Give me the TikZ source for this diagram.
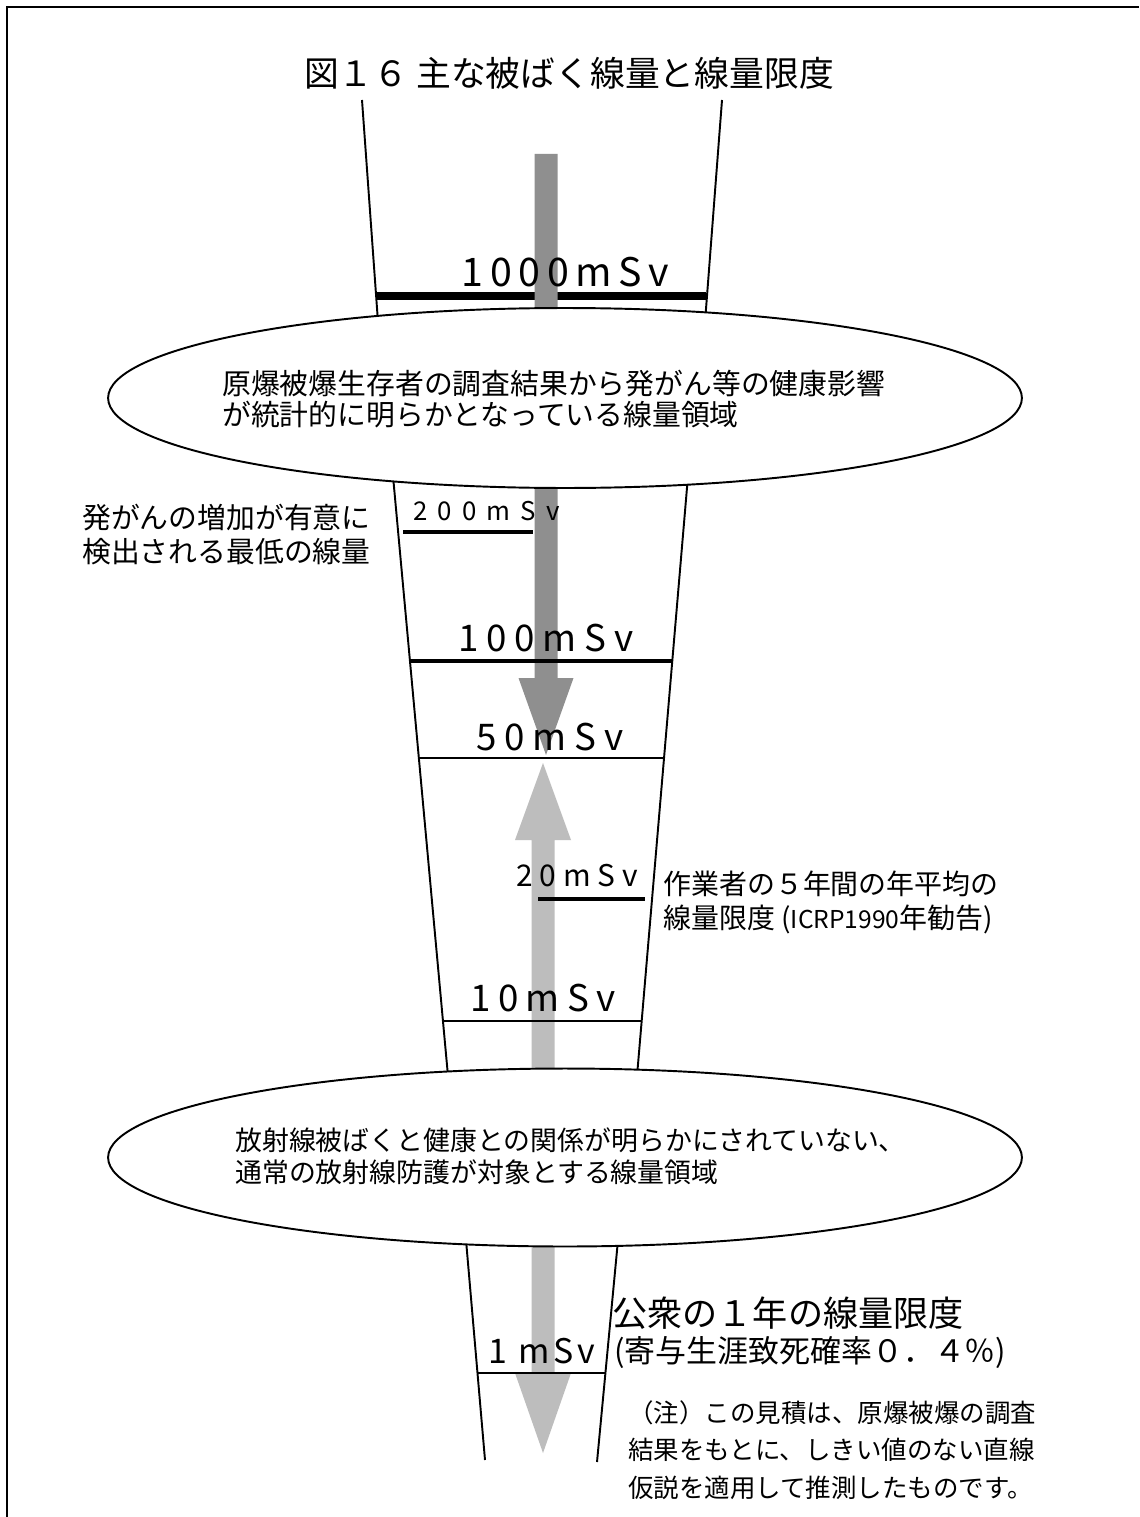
\documentclass[tikz,border=0pt]{standalone}
\usepackage{fontspec}
\setmainfont{Noto Sans CJK JP}
\usetikzlibrary{shapes.geometric}
\newcommand\fsz[2]{\fontsize{#1pt}{#2pt}\selectfont}
\newcommand\msv[2]{\fontsize{#1pt}{#1pt}\selectfont\addfontfeatures{LetterSpace=#2}}
\definecolor{darkarr}{gray}{0.56}
\definecolor{lightarr}{gray}{0.74}
\begin{document}
\begin{tikzpicture}[x=0.02cm,y=-0.02cm,
  side/.style={line width=1.1pt},
  framel/.style={line width=1.4pt},
  thinbar/.style={line width=1.1pt},
  midbar/.style={line width=2.2pt},
  zone/.style={ellipse, draw, fill=white, line width=1.1pt, inner sep=0, minimum width=18.28cm},
  txt/.style={inner sep=0, anchor=west, align=left},
  lbl/.style={inner sep=0}]
\useasboundingbox (0,0) rectangle (1139,1517);
\fill[white] (0,0) rectangle (1139,1517);
% frame
\coordinate (fbl) at (7,1517); \coordinate (ftl) at (7,7); \coordinate (ftr) at (1139,7);
\draw[framel] (fbl) -- (ftl) -- (ftr);
% funnel sides
\coordinate (tl1) at (362,100); \coordinate (tl2) at (378,322);
\coordinate (tr1) at (722,100); \coordinate (tr2) at (705,322);
\coordinate (ml1) at (393,476); \coordinate (ml2) at (448,1076);
\coordinate (mr1) at (688,476); \coordinate (mr2) at (637,1076);
\coordinate (bl1) at (466,1240); \coordinate (bl2) at (485,1460);
\coordinate (br1) at (618,1240); \coordinate (br2) at (597,1462);
\draw[side] (tl1) -- (tl2); \draw[side] (tr1) -- (tr2);
\draw[side] (ml1) -- (ml2); \draw[side] (mr1) -- (mr2);
\draw[side] (bl1) -- (bl2); \draw[side] (br1) -- (br2);
% 1000 mSv bar (under the arrow)
\coordinate (b1000a) at (377,296); \coordinate (b1000b) at (706,296);
\draw[line width=4.5pt] (b1000a) -- (b1000b);
% arrows
\fill[darkarr] (534.5,154) -- (557.5,154) -- (557.5,678) -- (573.5,678) -- (546,755) -- (518.5,678) -- (534.5,678) -- cycle;
\fill[lightarr] (543,763) -- (571,840) -- (554.5,840) -- (554.5,1373) -- (571,1373) -- (543,1453) -- (515,1373) -- (531.5,1373) -- (531.5,840) -- (515,840) -- cycle;
% bars
\coordinate (b200a) at (403,532); \coordinate (b200b) at (533,532);
\coordinate (b100a) at (410,661); \coordinate (b100b) at (673,661);
\coordinate (b50a) at (420,758); \coordinate (b50b) at (664,758);
\coordinate (b20a) at (538,899); \coordinate (b20b) at (645,899);
\coordinate (b10a) at (443,1021); \coordinate (b10b) at (641,1021);
\coordinate (b1a) at (477,1373); \coordinate (b1b) at (606,1373);
\draw[line width=2.8pt] (b200a) -- (b200b);
\draw[midbar] (b100a) -- (b100b);
\draw[thinbar] (b50a) -- (b50b);
\draw[midbar] (b20a) -- (b20b);
\draw[thinbar] (b10a) -- (b10b);
\draw[thinbar] (b1a) -- (b1b);
% zones
\node[zone, minimum height=3.6cm] (e1) at (565,398) {};
\node[zone, minimum height=3.56cm] (e2) at (565,1157.5) {};
% texts
\node[lbl, font=\fsz{19.8}{22}] (title) at (569,73) {図１６ 主な被ばく線量と線量限度};
\node[txt, font=\fsz{16.4}{18.1}] (e1t) at (222,399) {原爆被爆生存者の調査結果から発がん等の健康影響\\が統計的に明らかとなっている線量領域};
\node[txt, font=\fsz{15.3}{18.1}] (e2t) at (235,1156) {放射線被ばくと健康との関係が明らかにされていない、\\通常の放射線防護が対象とする線量領域};
\node[txt, font=\fsz{16.4}{19.8}] (left) at (82,534.5) {発がんの増加が有意に\\検出される最低の線量};
\node[txt, font=\fsz{15.9}{19.8}] (work) at (663,902.5) {作業者の５年間の年平均の\\線量限度 ({\fontsize{14pt}{14pt}\selectfont ICRP1990}年勧告)};
\node[txt, font=\fsz{20}{22}] (pub1) at (612,1313) {公衆の１年の線量限度};
\node[txt, font=\fsz{17.6}{20}] (pub2) at (614,1352) {(寄与生涯致死確率０．４％)};
\node[txt, font=\fsz{14.5}{21.5}] (note) at (628,1450) {（注）この見積は、原爆被爆の調査\\結果をもとに、しきい値のない直線\\仮説を適用して推測したものです。};
% dose labels
\node[lbl, font=\msv{22.4}{17}] (t1000) at (565.5,272) {1000mSv};
\node[lbl, font=\msv{14.7}{39}, anchor=west] (t200) at (413,511) {200mSv};
\node[lbl, font=\msv{20.9}{21}] (t100) at (546,638) {100mSv};
\node[lbl, font=\msv{20.9}{21}] (t50) at (550,737) {50mSv};
\node[lbl, font=\msv{17}{23}] (t20) at (577,876) {20mSv};
\node[lbl, font=\msv{20.9}{20}] (t10) at (543,998) {10mSv};
\node[lbl, font=\msv{19.3}{11}] (t1) at (542,1351) {1 mSv};
\end{tikzpicture}
\end{document}
